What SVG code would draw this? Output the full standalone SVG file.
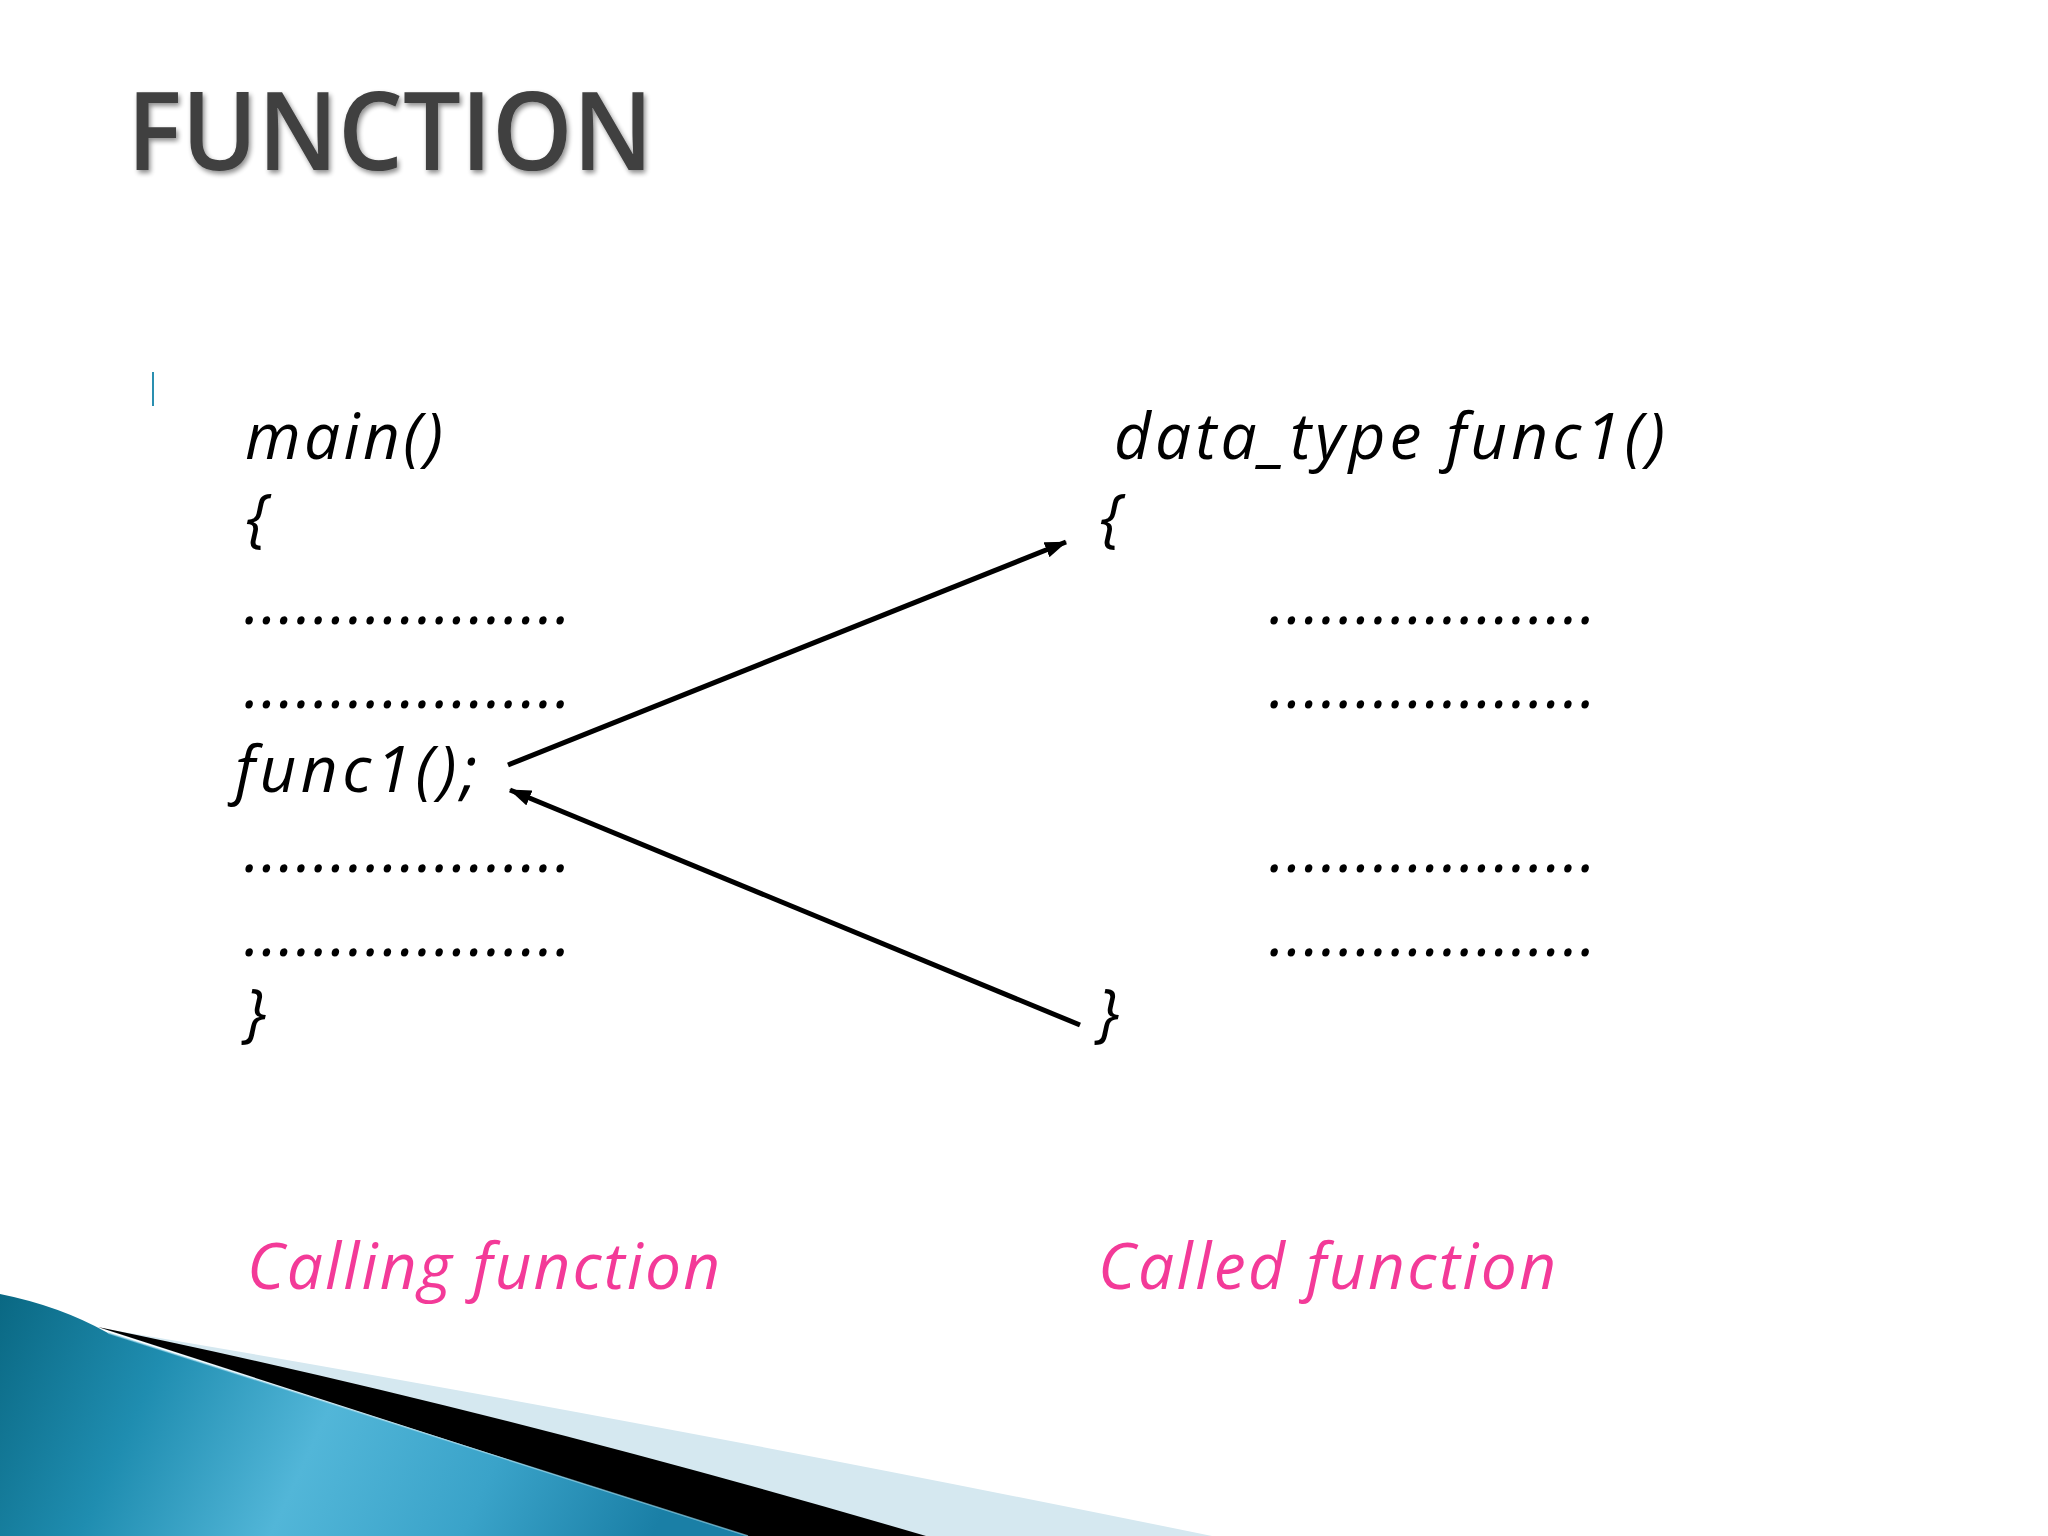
<svg xmlns="http://www.w3.org/2000/svg" width="2048" height="1536" viewBox="0 0 2048 1536">
  <defs>
    <style>
      .code { font-family: "Open Sans", "Noto Sans", sans-serif; font-style: italic; font-size: 64px; fill: #000000; }
      .label { font-family: "Open Sans", "Noto Sans", sans-serif; font-style: italic; font-size: 64px; fill: #f33a98; }
      .title { font-family: "Open Sans", "Noto Sans", sans-serif; font-size: 109px; font-weight: 600; fill: #404040; }
      .conn { stroke: #000000; stroke-width: 5; fill: none; marker-end: url(#arrow); }
    </style>
    <marker id="arrow" viewBox="0 0 22 16" markerWidth="22" markerHeight="16" refX="21" refY="8" orient="auto" markerUnits="userSpaceOnUse">
      <path d="M0,0 L22,8 L0,16 Z" fill="#000000"/>
    </marker>
    <filter id="shadow" x="-10%" y="-20%" width="120%" height="150%">
      <feGaussianBlur in="SourceAlpha" stdDeviation="2.5"/>
      <feOffset dx="2" dy="3" result="b"/>
      <feComponentTransfer><feFuncA type="linear" slope="0.45"/></feComponentTransfer>
      <feMerge><feMergeNode/><feMergeNode in="SourceGraphic"/></feMerge>
    </filter>
    <linearGradient id="teal" x1="0" y1="0" x2="1" y2="0.15">
      <stop offset="0" stop-color="#0a6883"/>
      <stop offset="0.25" stop-color="#1f8db0"/>
      <stop offset="0.5" stop-color="#52b6d8"/>
      <stop offset="0.75" stop-color="#3aa3c9"/>
      <stop offset="1" stop-color="#1a7fa6"/>
    </linearGradient>
  </defs>
  <rect width="2048" height="1536" fill="#ffffff"/>

  <g id="title">
    <text class="title" x="127" y="170" textLength="526" lengthAdjust="spacingAndGlyphs" filter="url(#shadow)">FUNCTION</text>
  </g>

  <line x1="153" y1="372" x2="153" y2="406" stroke="#2a8fb0" stroke-width="2"/>

  <g id="calling-function">
    <text class="code" x="245" y="459" textLength="198">main()</text>
    <text class="code" x="246" y="540">{</text>
    <text class="code" x="244" y="624" textLength="327">...................</text>
    <text class="code" x="244" y="708" textLength="327">...................</text>
    <text class="code" x="235" y="792" textLength="242">func1();</text>
    <text class="code" x="244" y="872" textLength="327">...................</text>
    <text class="code" x="244" y="956" textLength="327">...................</text>
    <text class="code" x="244" y="1035">}</text>
  </g>

  <g id="called-function">
    <text class="code" x="1114" y="459" textLength="551">data_type func1()</text>
    <text class="code" x="1100" y="540">{</text>
    <text class="code" x="1269" y="624" textLength="327">...................</text>
    <text class="code" x="1269" y="708" textLength="327">...................</text>
    <text class="code" x="1269" y="872" textLength="327">...................</text>
    <text class="code" x="1269" y="956" textLength="327">...................</text>
    <text class="code" x="1097" y="1035">}</text>
  </g>

  <g id="label-calling">
    <text class="label" x="247" y="1289" textLength="473">Calling function</text>
  </g>
  <g id="label-called">
    <text class="label" x="1098" y="1289" textLength="458">Called function</text>
  </g>

  <g id="connectors">
    <line class="conn" x1="508" y1="765" x2="1066" y2="542"/>
    <line class="conn" x1="1080" y1="1025" x2="510" y2="790"/>
  </g>

  <g id="decoration">
    <path d="M100,1328 Q620,1415 1212,1536 L740,1536 Z" fill="#d5e8f0"/>
    <path d="M98,1327 Q480,1405 926,1536 L745,1536 Z" fill="#000000"/>
    <path d="M0,1294 Q60,1306 108,1333 L748,1536 L0,1536 Z" fill="url(#teal)"/>
    <path d="M108,1333 L748,1536" stroke="#8ccfe6" stroke-width="1.5" fill="none" opacity="0.7"/>
  </g>
</svg>
